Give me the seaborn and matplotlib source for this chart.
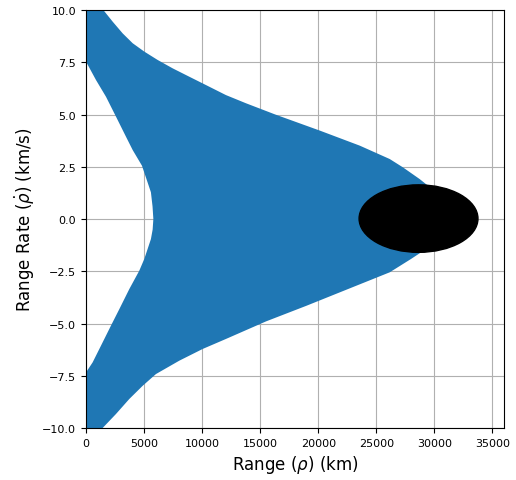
import numpy as np
import matplotlib
matplotlib.use("Agg")
import matplotlib.pyplot as plt
from matplotlib.patches import Ellipse
import seaborn as sns

# %% Data
# Outer edge of the admissible region, top (rate = 10) round the tip to bottom (rate = -10)
outer_rate = [10.0, 9.44, 8.88, 8.41, 8.01, 7.61, 7.21, 6.81, 6.41, 5.93, 5.54, 5.0, 4.23, 3.51,
              2.87, 2.47, 1.91, 1.53, 1.0, 0.5, 0.0,
              -0.5, -1.0, -1.58, -1.91, -2.55, -3.19, -4.15, -4.9, -5.74, -6.22, -6.78,
              -7.42, -7.98, -8.61, -9.33, -10.0]
outer_range = [1490, 2300, 3160, 4020, 5020, 6170, 7460, 8890, 10330, 12050, 13770, 16300, 20140, 23580,
               26160, 27300, 28740, 29600, 30500, 31200, 31500,
               31000, 30300, 28900, 28000, 26160, 23290, 18990, 15500, 12050, 10040, 8030,
               6020, 4880, 3730, 2580, 1430]

# Inner edge, bottom to top (range = 0 where the region touches the axis)
inner_rate = [-10.0, -7.34, -6.86, -6.06, -5.10, -4.31, -3.35, -2.47, -1.91, -0.96, -0.5, 0.0,
              0.6, 1.28, 2.55, 3.30, 3.94, 4.90, 5.85, 6.65, 7.53, 10.0]
inner_range = [0, 0, 570, 1290, 2150, 2870, 3730, 4590, 5020, 5590, 5740, 5800,
               5730, 5590, 4820, 4020, 3440, 2580, 1720, 860, 0, 0]

# Black uncertainty blob
blob_center = (28640, 0.02)
blob_width = 10240
blob_height = 3.23

# %% Plot
sns.set_style("ticks")
plt.rcParams['font.family'] = ['DejaVu Sans']
plt.rcParams['text.color'] = 'black'
plt.rcParams['axes.labelcolor'] = 'black'
plt.rcParams['xtick.color'] = 'black'
plt.rcParams['ytick.color'] = 'black'

fig, ax = plt.subplots(figsize=(5.16, 4.81), dpi=100)
fig.subplots_adjust(left=0.1667, right=0.9767, top=0.9771, bottom=0.1081)

region_col = '#1f77b4'

# Closed outline: outer edge then inner edge back up
poly_x = outer_range + inner_range
poly_y = outer_rate + inner_rate
ax.fill(poly_x, poly_y, color=region_col, lw=0, zorder=2)

ax.add_patch(Ellipse(blob_center, blob_width, blob_height, color='black', zorder=3))

ax.set_xlim(0, 36000)
ax.set_ylim(-10, 10)
ax.set_xticks(np.arange(0, 36000, 5000))
ax.set_yticks(np.arange(-10, 10.1, 2.5))

ax.grid(True, color='#b0b0b0', linewidth=0.8)
ax.set_axisbelow(True)

ax.tick_params(labelsize=8, length=3.5, width=0.8, direction='out')
for s in ax.spines.values():
    s.set_color('black')
    s.set_linewidth(0.8)

ax.set_xlabel(r"Range ($\rho$) (km)", fontsize=12)
ax.set_ylabel(r"Range Rate ($\dot{\rho}$) (km/s)", fontsize=12)

plt.savefig("out.png", dpi=100)
